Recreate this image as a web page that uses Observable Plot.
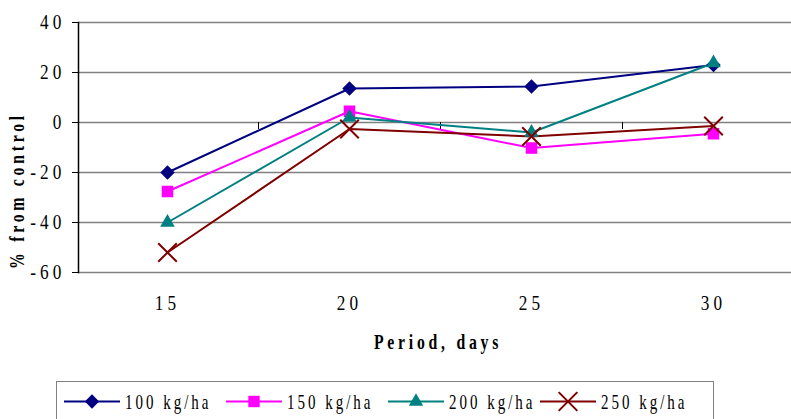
<!DOCTYPE html>
<html><head><meta charset="utf-8">
<script src="https://cdn.jsdelivr.net/npm/d3@7"></script>
<script src="https://cdn.jsdelivr.net/npm/@observablehq/plot@0.6"></script>
<style>
body{margin:0;background:#fff;}
#wrap{position:relative;width:791px;height:419px;overflow:hidden;background:#fff;}
#legend{position:absolute;left:56px;top:381px;width:658px;height:60px;border:1px solid #808080;box-sizing:border-box;background:#fff;}
</style></head><body><div id="wrap"></div>
<script>
const days = [15, 20, 25, 30];
const seriesNames = ["100 kg/ha", "150 kg/ha", "200 kg/ha", "250 kg/ha"];
const v100 = [-20, 13.6, 14.4, 23];
const v150 = [-27.6, 4.5, -10.2, -4.5];
const v200 = [-40, 2, -4, 23.8];
const v250 = [-52, -2.6, -5.6, -1.4];
const yTicks = [-60, -40, -20, 0, 20, 40];
const categoryBounds = [17.5, 22.5, 27.5];
const colors = ["#000080", "#FF00FF", "#008080", "#800000"];
const symbols = ["diamond2", "square", "triangle", "times"];
const yLabel = "% from control";
const xLabel = "Period, days";

const values = [v100, v150, v200, v250];
const rows = seriesNames.flatMap((s, i) => days.map((d, j) => ({series: s, day: d, value: values[i][j]})));
const bySeries = s => rows.filter(d => d.series === s);

const FONT = "'Liberation Serif','Times New Roman',serif";
const SX = 0.75;

const chart = Plot.plot({
  width: 791, height: 381,
  marginLeft: 78, marginRight: 0, marginTop: 22, marginBottom: 109,
  style: {fontFamily: FONT, fontSize: "20px", color: "#000", background: "transparent", overflow: "visible"},
  x: {type: "linear", domain: [15, 30], range: [167, 713]},
  y: {domain: [-60, 40]},
  color: {domain: seriesNames, range: colors},
  marks: [
    Plot.gridY(yTicks, {stroke: "#808080", strokeOpacity: 1, strokeWidth: 1.5}),
    Plot.ruleX(categoryBounds, {y1: 0, y2: -2.8, stroke: "#000", strokeWidth: 1}),
    Plot.frame({anchor: "left", stroke: "#000", strokeWidth: 1.5}),
    Plot.axisY(yTicks, {tickSize: 6, tickPadding: 7, label: null, stroke: "#000", fontSize: 21, tickFormat: d => String(d)}),
    Plot.axisX(days, {tickSize: 0, tickPadding: 23, label: null, fontSize: 21, tickFormat: d => String(d)}),
    Plot.line(rows, {x: "day", y: "value", stroke: "series", strokeWidth: 2}),
    Plot.dot(bySeries(seriesNames[0]), {x: "day", y: "value", fill: "series", symbol: symbols[0], r: 6.5}),
    Plot.dot(bySeries(seriesNames[1]), {x: "day", y: "value", fill: "series", symbol: symbols[1], r: 6.5}),
    Plot.dot(bySeries(seriesNames[2]), {x: "day", y: "value", fill: "series", symbol: symbols[2], r: 5.4}),
    Plot.dot(bySeries(seriesNames[3]), {x: "day", y: "value", stroke: "series", symbol: symbols[3], r: 8.5, strokeWidth: 2}),
    Plot.text([yLabel], {frameAnchor: "left", rotate: -90, dx: -61, dy: 43, textAnchor: "middle", lineAnchor: "middle", fontWeight: "bold", fontSize: 21}),
    Plot.text([xLabel], {frameAnchor: "bottom", dx: 3, dy: 70, textAnchor: "middle", lineAnchor: "middle", fontWeight: "bold", fontSize: 21})
  ]
});

function squeeze(root) {
  root.querySelectorAll("text").forEach(t => {
    const g = t.closest("g[aria-label]");
    const isTick = g && /tick label/.test(g.getAttribute("aria-label"));
    const sx = isTick ? 0.82 : SX;
    t.style.letterSpacing = isTick ? "5px" : "5px";
    t.style.fontVariant = "normal";
    const tr = t.getAttribute("transform");
    if (tr) t.setAttribute("transform", tr + ` scale(${sx},1)`);
    else {
      const x = +t.getAttribute("x") || 0, y = +t.getAttribute("y") || 0;
      t.setAttribute("transform", `translate(${x},${y}) scale(${sx},1)`);
      t.setAttribute("x", 0); t.setAttribute("y", 0);
    }
  });
}
squeeze(chart);

const wrap = document.getElementById("wrap");
wrap.appendChild(chart);

// legend
const leg = d3.select(wrap).append("div").attr("id", "legend");
const lsvg = leg.append("svg").attr("width", 656).attr("height", 58)
  .style("font-family", FONT).style("font-size", "20px").style("overflow", "visible");
const itemX = [7, 169, 331, 483];
seriesNames.forEach((s, i) => {
  const g = lsvg.append("g").attr("transform", `translate(${itemX[i]},19.5)`);
  g.append("line").attr("x1", 0).attr("x2", 56).attr("stroke", colors[i]).attr("stroke-width", 2);
  const sym = d3.symbol().type([d3.symbolDiamond2, d3.symbolSquare, d3.symbolTriangle, d3.symbolTimes][i])
    .size([130, 130, 90, 230][i]);
  const p = g.append("path").attr("d", sym()).attr("transform", "translate(28,0)");
  if (i === 3) p.attr("fill", "none").attr("stroke", colors[i]).attr("stroke-width", 2);
  else p.attr("fill", colors[i]);
  g.append("text").attr("transform", `translate(61,0) scale(${SX},1)`).attr("dy", "0.35em")
    .style("letter-spacing", "4px").attr("fill", "#000").text(s);
});
</script>
</body></html>
